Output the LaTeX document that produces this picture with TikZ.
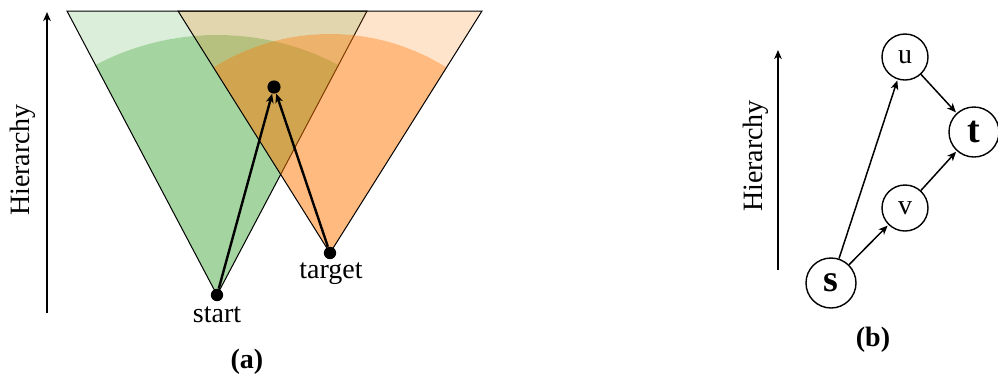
\documentclass[tikz,border=0pt]{standalone}
\usepackage{fontspec}
\setmainfont{Liberation Serif}
\usetikzlibrary{arrows.meta}
\tikzset{>={Stealth[length=4.5pt, width=3.8pt, inset=1.2pt]}}
\definecolor{hgreen}{RGB}{73,169,65}
\definecolor{horange}{RGB}{255,119,0}
\tikzset{
  lbl/.style={font=\fontsize{14}{16}\selectfont},
  sublabel/.style={font=\fontsize{14}{16}\selectfont\bfseries},
  dot/.style={circle, fill=black, inner sep=0pt, minimum size=6.2pt},
  vtx/.style={draw, circle, line width=0.7pt, inner sep=0pt, minimum size=23pt, font=\fontsize{14}{16}\selectfont},
  bigvtx/.style={vtx, minimum size=25pt, font=\fontsize{19}{20}\selectfont\bfseries},
  edge/.style={->, line width=0.75pt, shorten >=0.5pt},
}

\begin{document}
\begin{tikzpicture}[x=0.5pt, y=-0.5pt]
      \useasboundingbox (0,0) rectangle (998,376);

      % (a) cones of the two searches
      \begin{scope}
        \clip (67,11) -- (367,11) -- (217,295) -- cycle;
        \fill[hgreen, opacity=0.2, even odd rule] (67,11) -- (367,11) -- (217,295) -- cycle (217,295) circle (130pt);
        \fill[hgreen, opacity=0.5] (217,295) circle (130pt);
      \end{scope}
      \draw[line width=0.5pt] (67,11) -- (367,11) -- (217,295) -- cycle;

      \begin{scope}
        \clip (178,11) -- (482,11) -- (330,253) -- cycle;
        \fill[horange, opacity=0.2, even odd rule] (178,11) -- (482,11) -- (330,253) -- cycle (330,253) circle (109.5pt);
        \fill[horange, opacity=0.5] (330,253) circle (109.5pt);
      \end{scope}
      \draw[line width=0.5pt] (178,11) -- (482,11) -- (330,253) -- cycle;

      \node[dot] (start) at (217,295) {};
      \node[dot] (target) at (330,253) {};
      \node[dot, minimum size=6.6pt] (meet) at (274,87) {};
      \node[lbl] (startl) at (217,315) {start};
      \node[lbl] (targetl) at (331,274) {target};
      \draw[->, line width=1.2pt] (start) -- (meet);
      \draw[->, line width=1.2pt] (target) -- (meet);

      \coordinate (ha0) at (47,313);
      \coordinate (ha1) at (47,12);
      \draw[->, line width=0.6pt] (ha0) -- (ha1);
      \node[lbl, rotate=90] (hla) at (23,160) {Hierarchy};
      \node[sublabel] (capa) at (247,362) {(a)};

      % (b) small graph
      \node[bigvtx] (s) at (831,283) {s};
      \node[vtx] (u) at (905,57) {u};
      \node[vtx] (v) at (905,208) {v};
      \node[bigvtx] (t) at (974,132) {t};
      \draw[edge] (s) -- (u);
      \draw[edge] (s) -- (v);
      \draw[edge] (u) -- (t);
      \draw[edge] (v) -- (t);

      \coordinate (hb0) at (778,270);
      \coordinate (hb1) at (778,50);
      \draw[->, line width=0.6pt] (hb0) -- (hb1);
      \node[lbl, rotate=90] (hlb) at (756,156) {Hierarchy};
      \node[sublabel] (capb) at (873,340) {(b)};
\end{tikzpicture}
\end{document}
